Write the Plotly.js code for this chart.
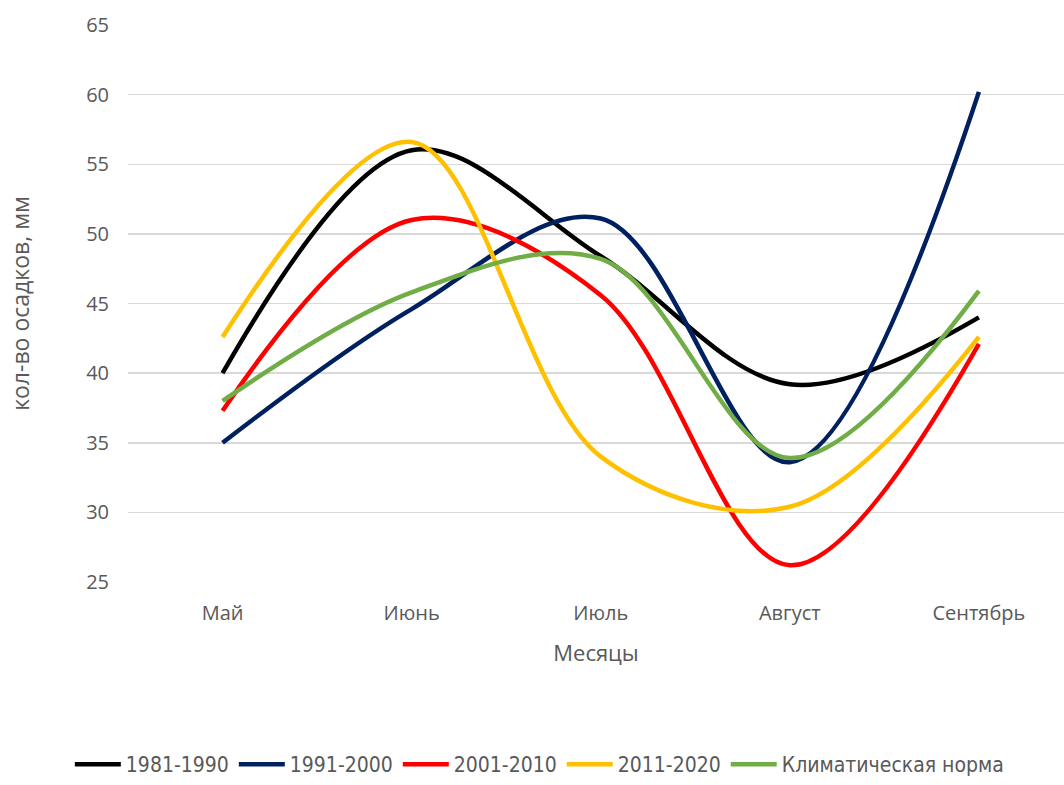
<!DOCTYPE html>
<html>
<head>
<meta charset="utf-8">
<script src="https://cdn.plot.ly/plotly-3.0.1.min.js"></script>
<style>
html,body{margin:0;padding:0;background:#fff;overflow:hidden;}
#chart{width:1064px;height:785px;}
</style>
</head>
<body>
<div id="chart"></div>
<script>
const months = ["Май", "Июнь", "Июль", "Август", "Сентябрь"];
const s1981 = [40.0, 56.0, 48.4, 39.2, 44.0];
const s1991 = [35.0, 44.6, 51.1, 33.6, 60.2];
const s2001 = [37.3, 51.0, 45.6, 26.2, 42.1];
const s2011 = [42.6, 56.6, 34.0, 30.4, 42.6];
const sNorm = [38.0, 45.8, 48.2, 33.9, 45.9];
const names = ["1981-1990", "1991-2000", "2001-2010", "2011-2020", "Климатическая норма"];
const colors = ["#000000", "#002060", "#ff0000", "#ffc000", "#70ad47"];
const series = [s1981, s1991, s2001, s2011, sNorm];

const traces = series.map((ys, i) => ({
  type: "scatter",
  mode: "lines",
  x: months,
  y: ys,
  name: names[i],
  line: {color: colors[i], width: 4.5, shape: "spline", smoothing: 1.0},
  hoverinfo: "x+y+name"
}));

const layout = {
  width: 1064,
  height: 785,
  margin: {l: 128, r: 0, t: 25, b: 203, pad: 0},
  paper_bgcolor: "#ffffff",
  plot_bgcolor: "#ffffff",
  font: {family: "Open Sans, DejaVu Sans, sans-serif", color: "#595959"},
  showlegend: true,
  xaxis: {
    type: "category",
    range: [-0.5, 4.45],
    automargin: false,
    showgrid: false,
    zeroline: false,
    showline: false,
    ticks: "",
    tickfont: {size: 20, color: "#595959", family: "Open Sans, sans-serif"},
    ticklabelstandoff: 17,
    title: {text: "Месяцы", font: {size: 22, color: "#595959", family: "Open Sans, sans-serif"}, standoff: 20},
    fixedrange: true
  },
  yaxis: {
    range: [25, 65],
    dtick: 5,
    tick0: 25,
    automargin: false,
    showgrid: true,
    gridcolor: "#d9d9d9",
    gridwidth: 1.5,
    zeroline: false,
    showline: false,
    ticks: "",
    tickfont: {size: 20, color: "#595959", family: "Open Sans, sans-serif"},
    ticklabelstandoff: 18,
    title: {text: "кол-во осадков, мм", font: {size: 23, color: "#595959", family: "Open Sans, sans-serif"}, standoff: 50},
    fixedrange: true
  },
  legend: {
    orientation: "h",
    x: 0.44,
    xanchor: "center",
    y: -0.365,
    yanchor: "bottom",
    font: {size: 21, color: "#595959", family: "DejaVu Sans Condensed, Liberation Sans Narrow, sans-serif"},
    itemwidth: 46,
    tracegroupgap: 0,
    bgcolor: "rgba(0,0,0,0)"
  }
};

Plotly.newPlot("chart", traces, layout, {staticPlot: true, displayModeBar: false});
</script>
</body>
</html>
